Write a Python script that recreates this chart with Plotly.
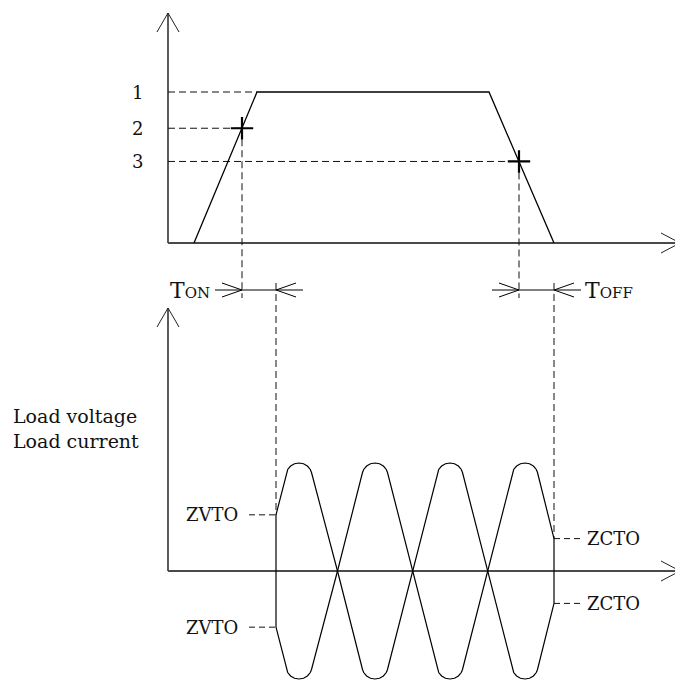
import plotly.graph_objects as go

# ---------------- data (time measured from the vertical axis, arbitrary units) ----------------
level_values = [1.0, 0.76, 0.54]          # threshold levels 1, 2, 3 (fraction of full input)
level_labels = ["1", "2", "3"]

ramp_t = [26, 89, 321, 386]               # input control signal (trapezoid)
ramp_v = [0.0, 1.0, 1.0, 0.0]

ton_t = [74, 108]                          # level-2 crossing -> turn-on (ZVTO)
toff_t = [351, 386]                        # level-3 crossing -> turn-off (ZCTO)

# read-off points of the load waveforms: start, rounded peaks, zero crossings, end
wave_t = [108,
          118.5, 119.7, 122.6, 126.5, 131, 135.5, 139.4, 142.3, 143.5, 169.5,
          194.5, 195.7, 198.6, 202.5, 207, 211.5, 215.4, 218.3, 219.5, 244.5,
          269.5, 270.7, 273.6, 277.5, 282, 286.5, 290.4, 293.3, 294.5, 319.5,
          344.5, 345.7, 348.6, 352.5, 357, 361.5, 365.4, 368.3, 369.5,
          386]
load_voltage = [0.52,
                0.912, 0.94, 0.972, 0.993, 1.0, 0.993, 0.972, 0.94, 0.912, 0.0,
                -0.912, -0.94, -0.972, -0.993, -1.0, -0.993, -0.972, -0.94, -0.912, 0.0,
                0.912, 0.94, 0.972, 0.993, 1.0, 0.993, 0.972, 0.94, 0.912, 0.0,
                -0.912, -0.94, -0.972, -0.993, -1.0, -0.993, -0.972, -0.94, -0.912,
                -0.30]
load_current = [-0.52,
                -0.912, -0.94, -0.972, -0.993, -1.0, -0.993, -0.972, -0.94, -0.912, 0.0,
                0.912, 0.94, 0.972, 0.993, 1.0, 0.993, 0.972, 0.94, 0.912, 0.0,
                -0.912, -0.94, -0.972, -0.993, -1.0, -0.993, -0.972, -0.94, -0.912, 0.0,
                0.912, 0.94, 0.972, 0.993, 1.0, 0.993, 0.972, 0.94, 0.912,
                0.30]

zvto_level = 0.52
zcto_level = 0.30

# ---------------- geometry of the drawing ----------------
W, H = 675, 680
X0 = 168                      # pixel of the vertical axes
TOP_ZERO, TOP_SCALE = 243, 151  # top panel: pixel of 0, pixels per unit
BOT_ZERO, BOT_SCALE = 571, 108  # bottom panel
T_MAX = 512

def ty(px):   # pixel offset -> top-panel units
    return px / TOP_SCALE

def by(px):
    return px / BOT_SCALE

fig = go.Figure()

def line(xs, ys, axis="y", color="#000", width=1.2, dash=None, shape="linear"):
    fig.add_trace(go.Scatter(x=xs, y=ys, yaxis=axis, mode="lines",
                             line=dict(color=color, width=width, dash=dash, shape=shape),
                             hoverinfo="skip", showlegend=False))

AX_COL = "#4a4a4a"
DASH = "7px,4px"
DCOL = "#111111"

# ---- top panel axes ----
top_tip = ty(TOP_ZERO - 13)
line([0, 0], [0, top_tip], color=AX_COL, width=1.8)
line([-11, 0, 11], [top_tip - ty(19), top_tip, top_tip - ty(19)], color="#222", width=1)
line([0, T_MAX], [0, 0], color=AX_COL, width=1.8)
line([T_MAX - 19, T_MAX, T_MAX - 19], [ty(10), 0, -ty(10)], color="#222", width=1)

# ---- bottom panel axes ----
bot_tip = by(BOT_ZERO - 308)
line([0, 0], [0, bot_tip], axis="y2", color=AX_COL, width=1.8)
line([-11, 0, 11], [bot_tip - by(19), bot_tip, bot_tip - by(19)], axis="y2", color="#222", width=1)
line([0, T_MAX], [0, 0], axis="y2", color=AX_COL, width=1.8)
line([T_MAX - 19, T_MAX, T_MAX - 19], [by(10), 0, -by(10)], axis="y2", color="#222", width=1)

# ---- level dashed lines ----
level_ends = [ramp_t[1], ton_t[0], toff_t[0]]
for lv, te in zip(level_values, level_ends):
    line([0, te], [lv, lv], color=DCOL, width=1, dash=DASH)

# ---- trapezoid ----
line(ramp_t, ramp_v, color="#000", width=1.3)

# ---- crossing markers ----
fig.add_trace(go.Scatter(x=[ton_t[0], toff_t[0]], y=[level_values[1], level_values[2]],
                         mode="markers", hoverinfo="skip", showlegend=False,
                         marker=dict(symbol="cross-thin", size=16,
                                     line=dict(color="#000", width=2.2))))

# ---- dimension lines TON / TOFF ----
dim_y = -ty(290 - TOP_ZERO)
dim_bot = -ty(298 - TOP_ZERO)
line([ton_t[0], ton_t[0]], [level_values[1], dim_bot], color=DCOL, width=1, dash=DASH)
line([toff_t[0], toff_t[0]], [level_values[2], dim_bot], color=DCOL, width=1, dash=DASH)

for a, b in (ton_t, toff_t):
    line([a - 27, b + 27], [dim_y, dim_y], color="#000", width=1)
    line([a - 20, a, a - 20], [dim_y + ty(7), dim_y, dim_y - ty(7)], color="#000", width=1)
    line([b + 20, b, b + 20], [dim_y + ty(7), dim_y, dim_y - ty(7)], color="#000", width=1)

dim_top2 = by(BOT_ZERO - 283)
line([ton_t[1], ton_t[1]], [dim_top2, zvto_level], axis="y2", color=DCOL, width=1, dash=DASH)
line([toff_t[1], toff_t[1]], [dim_top2, zcto_level], axis="y2", color=DCOL, width=1, dash=DASH)

# ---- load waveforms ----
for series in (load_voltage, load_current):
    line(wave_t, series, axis="y2", color="#000", width=1.2)
line([ton_t[1], ton_t[1]], [zvto_level, -zvto_level], axis="y2", color="#000", width=1.2)
line([toff_t[1], toff_t[1]], [zcto_level, -zcto_level], axis="y2", color="#000", width=1.2)

# ZVTO / ZCTO leader dashes
for s in (1, -1):
    line([ton_t[1] - 27, ton_t[1]], [s * zvto_level] * 2, axis="y2", color=DCOL, width=1, dash="6px,4px")
    line([toff_t[1], toff_t[1] + 26], [s * zcto_level] * 2, axis="y2", color=DCOL, width=1, dash="6px,4px")

# ---------------- text ----------------
FONT = "DejaVu Serif"
ann = []
for lab, lv in zip(level_labels, level_values):
    ann.append(dict(x=-31, y=lv, yref="y", text=lab, xanchor="center", yanchor="middle"))
ann.append(dict(x=0, y=dim_y, yref="y", xanchor="left", yanchor="middle",
                text="T<span style='font-size:15px'>ON</span>", font=dict(size=22)))
ann.append(dict(x=toff_t[1] + 29, y=dim_y, yref="y", xanchor="left", yanchor="middle",
                text="T<span style='font-size:15px'>OFF</span>", font=dict(size=22)))
ann.append(dict(x=-157, y=by(BOT_ZERO - 428), yref="y2", xanchor="left", yanchor="middle",
                align="left", text="Load voltage<br>Load current", font=dict(size=19)))
for s in (1, -1):
    ann.append(dict(x=ton_t[1] - 36, y=s * zvto_level, yref="y2", text="ZVTO",
                    xanchor="right", yanchor="middle", font=dict(size=18)))
    ann.append(dict(x=toff_t[1] + 31, y=s * zcto_level, yref="y2", text="ZCTO",
                    xanchor="left", yanchor="middle", font=dict(size=18)))
for a in ann:
    a.setdefault("xref", "x")
    a.setdefault("font", dict(size=18))
    a["font"] = dict(family=FONT, color="#111", **a["font"])
    a["showarrow"] = False

fig.update_layout(
    width=W, height=H, autosize=False,
    margin=dict(l=0, r=0, t=0, b=0),
    paper_bgcolor="white", plot_bgcolor="white",
    xaxis=dict(range=[-X0, W - X0], visible=False, domain=[0, 1]),
    yaxis=dict(range=[-(H - TOP_ZERO) / TOP_SCALE, TOP_ZERO / TOP_SCALE], visible=False, domain=[0, 1]),
    yaxis2=dict(range=[-(H - BOT_ZERO) / BOT_SCALE, BOT_ZERO / BOT_SCALE], visible=False,
                overlaying="y", domain=[0, 1]),
    annotations=ann,
)

fig.write_html("out.html", config={"displayModeBar": False},
               post_script="document.body.style.margin='0px';")
